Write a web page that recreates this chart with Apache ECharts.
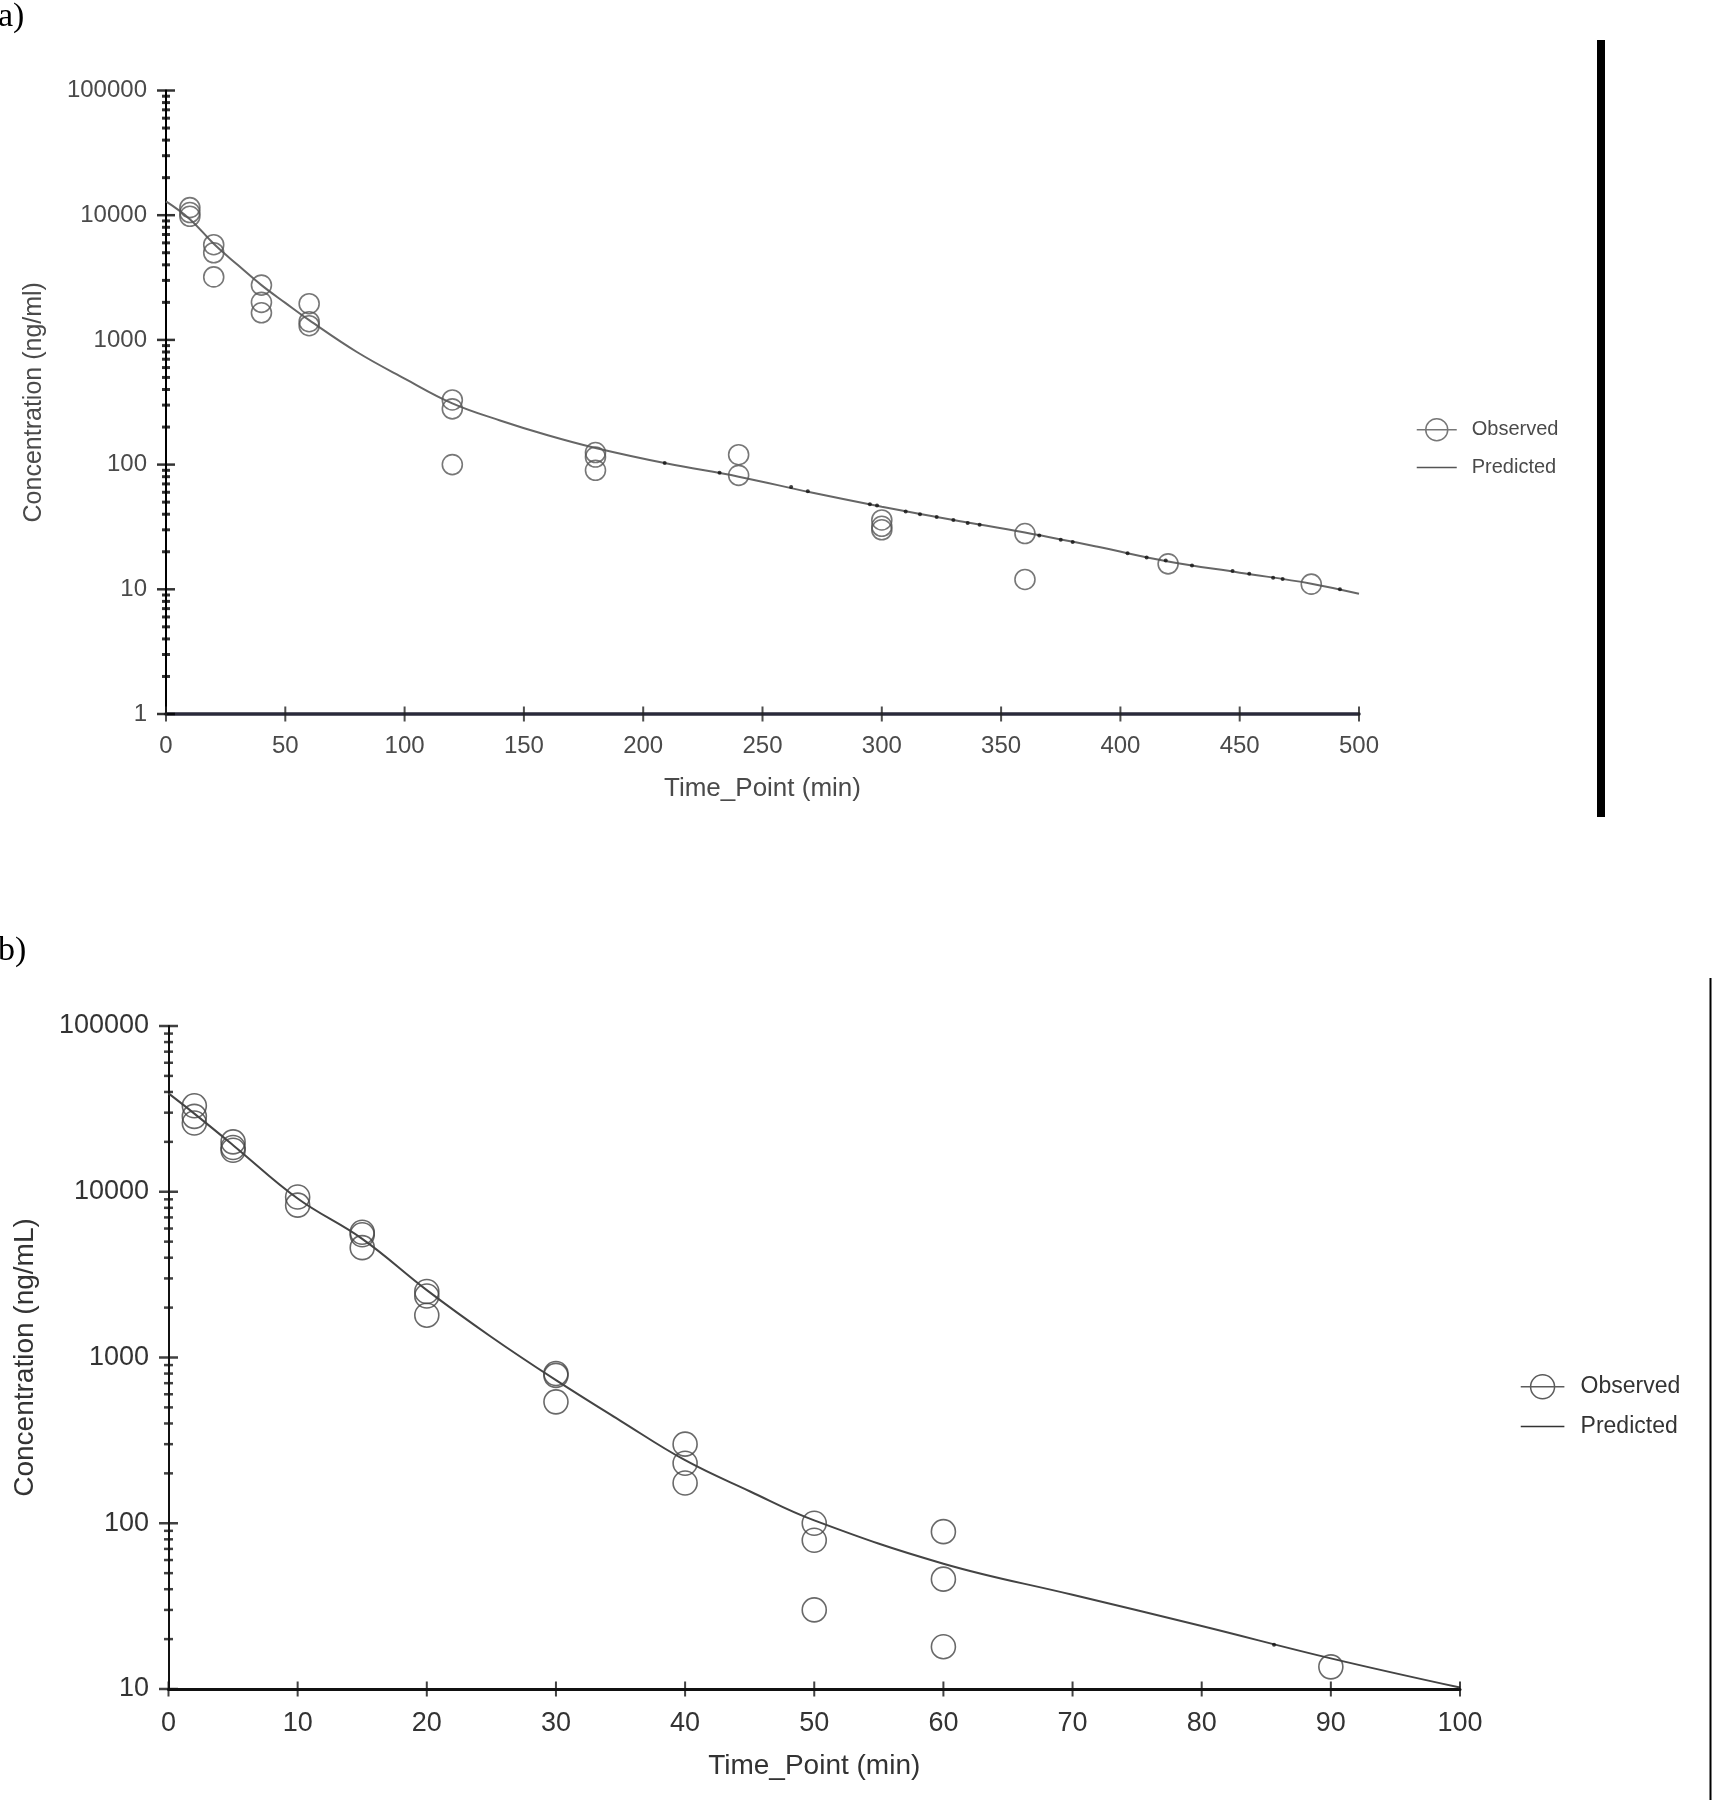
<!DOCTYPE html>
<html><head><meta charset="utf-8">
<script src="https://cdn.jsdelivr.net/npm/echarts@6/dist/echarts.min.js"></script>
<style>html,body{margin:0;padding:0;background:#fff}#c{width:1712px;height:1800px}</style>
</head><body><div id="c"></div>
<script>
// ---------- Panel a data ----------
const obsATime = [10,10,10,20,20,20,40,40,40,60,60,60,120,120,120,180,180,180,240,240,300,300,300,360,360,420,480];
const obsAConc = [11500,10500,9800,5800,5000,3200,2750,2000,1650,1950,1400,1300,330,280,100,125,115,90,120,82,36,32,30,28,12,16,11];
const predATime = [0,10,20,30,40,50,60,80,100,120,140,160,180,210,240,270,300,330,360,390,420,450,480,500];
const predAConc = [12900,9300,5900,4000,2750,1980,1440,800,490,310,226,172,136,102,80,60,46,36,28.5,22,16.7,13.6,11.1,9.2];
const dotsATime = [209,232,262,269,295,298,310,316,323,330,336,341,366,375,380,403,411,419,430,447,454,464,468,492];
const dotsAConc = [103,86,66,61,48,47,42,40,38,36,34,33,27,25,24,19.5,18,17,15.5,14,13.3,12.4,12.1,10];
const xTicksA = [0,50,100,150,200,250,300,350,400,450,500];
const yDecadesA = [1,10,100,1000,10000,100000];

// ---------- Panel b data ----------
const obsBTime = [2,2,2,5,5,5,10,10,15,15,15,20,20,20,30,30,30,40,40,40,50,50,50,60,60,60,90];
const obsBConc = [33000,28500,26000,20000,18500,17800,9300,8300,5700,5500,4600,2500,2350,1800,800,780,540,300,230,175,100,79,30,89,46,18,13.6];
const predBTime = [0,2,5,10,15,20,25,30,35,40,45,50,60,70,80,90,100];
const predBConc = [39200,29600,19100,9100,5200,2550,1330,730,415,240,156,104,57,37,24,15.3,10.2];
const dotsBTime = [85.6];
const dotsBConc = [18.5];
const xTicksB = [0,10,20,30,40,50,60,70,80,90,100];
const yDecadesB = [10,100,1000,10000,100000];

const minorMult = [2,3,4,5,6,7,8,9];

const zip = (a,b) => a.map((v,i)=>[v,b[i]]);
function minors(decades){
  const out=[];
  for(let i=0;i<decades.length-1;i++) minorMult.forEach(m=>out.push([0,decades[i]*m]));
  return out;
}
const FF = 'Liberation Sans';
const obsIcon = 'path://M0,11 L40,11 M31,11 A11,11 0 1 1 9,11 A11,11 0 1 1 31,11';
const lineIcon = 'path://M0,0 L0,0 M0,10.2 L40,10.2 L40,11.8 L0,11.8 Z M0,22 L0,22';

const chart = echarts.init(document.getElementById('c'), null, {renderer:'canvas'});
const labFmt = v => String(Math.round(v));

chart.setOption({
  animation:false,
  backgroundColor:'#fff',
  title:[
    {text:'a)', left:-2, top:0, padding:0, textStyle:{fontFamily:'Liberation Serif', fontSize:34, fontWeight:'normal', color:'#000'}},
    {text:'b)', left:-2, top:934, padding:0, textStyle:{fontFamily:'Liberation Serif', fontSize:34, fontWeight:'normal', color:'#000'}}
  ],
  grid:[
    {left:166, top:90.5, width:1193, height:623.5},
    {left:168.5, top:1026, width:1291.5, height:663}
  ],
  xAxis:[
    {gridIndex:0, type:'value', min:0, max:500, interval:50,
     name:'Time_Point (min)', nameLocation:'middle', nameGap:62,
     nameTextStyle:{fontFamily:FF, fontSize:26, color:'#4a4a4a'},
     axisLine:{show:true, lineStyle:{color:'#2a2a3a', width:3.5}},
     axisTick:{show:false}, splitLine:{show:false},
     axisLabel:{margin:20, fontFamily:FF, fontSize:24, color:'#4a4a4a'}},
    {gridIndex:1, type:'value', min:0, max:100, interval:10,
     name:'Time_Point (min)', nameLocation:'middle', nameGap:63,
     nameTextStyle:{fontFamily:FF, fontSize:28, color:'#333'},
     axisLine:{show:true, lineStyle:{color:'#111', width:3}},
     axisTick:{show:false}, splitLine:{show:false},
     axisLabel:{margin:21, fontFamily:FF, fontSize:27, color:'#333'}}
  ],
  yAxis:[
    {gridIndex:0, type:'log', logBase:10, min:1, max:100000,
     name:'Concentration (ng/ml)', nameLocation:'middle', nameGap:119,
     nameTextStyle:{fontFamily:FF, fontSize:25, color:'#4a4a4a'},
     axisLine:{show:true, lineStyle:{color:'#000', width:2}},
     axisTick:{show:false}, splitLine:{show:false}, minorTick:{show:false},
     axisLabel:{margin:19, formatter:labFmt, fontFamily:FF, fontSize:24, color:'#4a4a4a'}},
    {gridIndex:1, type:'log', logBase:10, min:10, max:100000,
     name:'Concentration (ng/mL)', nameLocation:'middle', nameGap:129,
     nameTextStyle:{fontFamily:FF, fontSize:28, color:'#333'},
     axisLine:{show:true, lineStyle:{color:'#111', width:2}},
     axisTick:{show:false}, splitLine:{show:false}, minorTick:{show:false},
     axisLabel:{margin:19.5, formatter:labFmt, fontFamily:FF, fontSize:27, color:'#333'}}
  ],
  legend:[
    {data:[{name:'Observed', icon:obsIcon, itemStyle:{color:'rgba(0,0,0,0)', borderColor:'#555', borderWidth:1.5}},
           {name:'Predicted', icon:lineIcon, itemStyle:{color:'#555', borderWidth:0}}],
     orient:'vertical', left:1411, top:413, itemWidth:40, itemHeight:22, itemGap:15, selectedMode:false,
     textStyle:{fontFamily:FF, fontSize:20, color:'#4a4a4a', padding:[0,0,0,10]}},
    {data:[{name:'Observed', icon:obsIcon, itemStyle:{color:'rgba(0,0,0,0)', borderColor:'#333', borderWidth:1.5}},
           {name:'Predicted', icon:lineIcon, itemStyle:{color:'#333', borderWidth:0}}],
     orient:'vertical', left:1515, top:1369, itemWidth:46, itemHeight:24, itemGap:15, selectedMode:false,
     textStyle:{fontFamily:FF, fontSize:23, color:'#333', padding:[0,0,0,10]}}
  ],
  series:[
    // panel a
    {name:'Predicted', type:'line', xAxisIndex:0, yAxisIndex:0, data:zip(predATime,predAConc),
     smooth:0.4, symbol:'none', lineStyle:{color:'#666', width:2}, itemStyle:{color:'#666'}, z:3},
    {name:'Observed', type:'scatter', xAxisIndex:0, yAxisIndex:0, data:zip(obsATime,obsAConc),
     symbol:'circle', symbolSize:20, itemStyle:{color:'rgba(0,0,0,0)', borderColor:'#555', borderWidth:1.6}, z:4},
    {name:'predA-pts', type:'scatter', xAxisIndex:0, yAxisIndex:0, data:zip(dotsATime,dotsAConc),
     symbol:'circle', symbolSize:4, itemStyle:{color:'#111'}, z:5, silent:true},
    {name:'a-yminor', type:'scatter', xAxisIndex:0, yAxisIndex:0, data:minors(yDecadesA), clip:false,
     symbol:'rect', symbolSize:[8,3], itemStyle:{color:'#000'}, silent:true, z:6},
    {name:'a-ymajor', type:'scatter', xAxisIndex:0, yAxisIndex:0, data:yDecadesA.map(v=>[0,v]), clip:false,
     symbol:'rect', symbolSize:[18,2.5], itemStyle:{color:'#000'}, silent:true, z:6},
    {name:'a-xmajor', type:'scatter', xAxisIndex:0, yAxisIndex:0, data:xTicksA.map(v=>[v,1]), clip:false,
     symbol:'rect', symbolSize:[2,15], itemStyle:{color:'#222'}, silent:true, z:6},
    // panel b
    {name:'Predicted', type:'line', xAxisIndex:1, yAxisIndex:1, data:zip(predBTime,predBConc),
     smooth:0.4, symbol:'none', lineStyle:{color:'#444', width:2}, itemStyle:{color:'#444'}, z:3},
    {name:'Observed', type:'scatter', xAxisIndex:1, yAxisIndex:1, data:zip(obsBTime,obsBConc),
     symbol:'circle', symbolSize:24, itemStyle:{color:'rgba(0,0,0,0)', borderColor:'#444', borderWidth:1.6}, z:4},
    {name:'predB-pts', type:'scatter', xAxisIndex:1, yAxisIndex:1, data:zip(dotsBTime,dotsBConc),
     symbol:'circle', symbolSize:4, itemStyle:{color:'#111'}, z:5, silent:true},
    {name:'b-yminor', type:'scatter', xAxisIndex:1, yAxisIndex:1, data:minors(yDecadesB), clip:false,
     symbol:'rect', symbolSize:[9,2.5], itemStyle:{color:'#111'}, silent:true, z:6},
    {name:'b-ymajor', type:'scatter', xAxisIndex:1, yAxisIndex:1, data:yDecadesB.map(v=>[0,v]), clip:false,
     symbol:'rect', symbolSize:[19,2.5], itemStyle:{color:'#111'}, silent:true, z:6},
    {name:'b-xmajor', type:'scatter', xAxisIndex:1, yAxisIndex:1, data:xTicksB.map(v=>[v,10]), clip:false,
     symbol:'rect', symbolSize:[2,15], itemStyle:{color:'#111'}, silent:true, z:6}
  ],
  graphic:[
    {type:'rect', shape:{x:1597, y:40, width:8, height:777}, style:{fill:'#000'}},
    {type:'rect', shape:{x:1709.5, y:978, width:2, height:822}, style:{fill:'#000'}}
  ]
});
</script></body></html>
